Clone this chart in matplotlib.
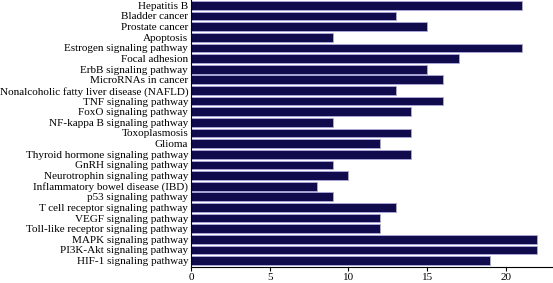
import numpy as np
import matplotlib.pyplot as plt

pathways = ["Hepatitis B", "Bladder cancer", "Prostate cancer", "Apoptosis",
            "Estrogen signaling pathway", "Focal adhesion", "ErbB signaling pathway",
            "MicroRNAs in cancer", "Nonalcoholic fatty liver disease (NAFLD)",
            "TNF signaling pathway", "FoxO signaling pathway", "NF-kappa B signaling pathway",
            "Toxoplasmosis", "Glioma", "Thyroid hormone signaling pathway",
            "GnRH signaling pathway", "Neurotrophin signaling pathway",
            "Inflammatory bowel disease (IBD)", "p53 signaling pathway",
            "T cell receptor signaling pathway", "VEGF signaling pathway",
            "Toll-like receptor signaling pathway", "MAPK signaling pathway",
            "PI3K-Akt signaling pathway", "HIF-1 signaling pathway"]
counts = [21, 13, 15, 9, 21, 17, 15, 16, 13, 16, 14, 9, 14, 12, 14, 9, 10, 8, 9, 13, 12, 12, 22, 22, 19]

plt.rcParams['font.family'] = ['Liberation Serif', 'DejaVu Serif']

fig = plt.figure(figsize=(5.53, 2.83), dpi=100)
ax = fig.add_axes([191/553, 16/283, 362/553, 267/283])

y = np.arange(len(pathways))[::-1]
ax.barh(y, counts, height=0.82, color='#0f0b4d', edgecolor='#aeaadc', linewidth=0.6)
ax.set_yticks(y)
ax.set_yticklabels(pathways, fontsize=8)
ax.set_xticks([0, 5, 10, 15, 20])
ax.tick_params(axis='x', labelsize=8, length=3, pad=1.5, width=0.8)
ax.tick_params(axis='y', length=0, pad=2)
ax.set_xlim(0, 23)
ax.set_ylim(-0.6, 24.5)
for s in ['top', 'right']:
    ax.spines[s].set_visible(False)
for s in ['left', 'bottom']:
    ax.spines[s].set_linewidth(0.8)

fig.savefig('out.png', dpi=100)
